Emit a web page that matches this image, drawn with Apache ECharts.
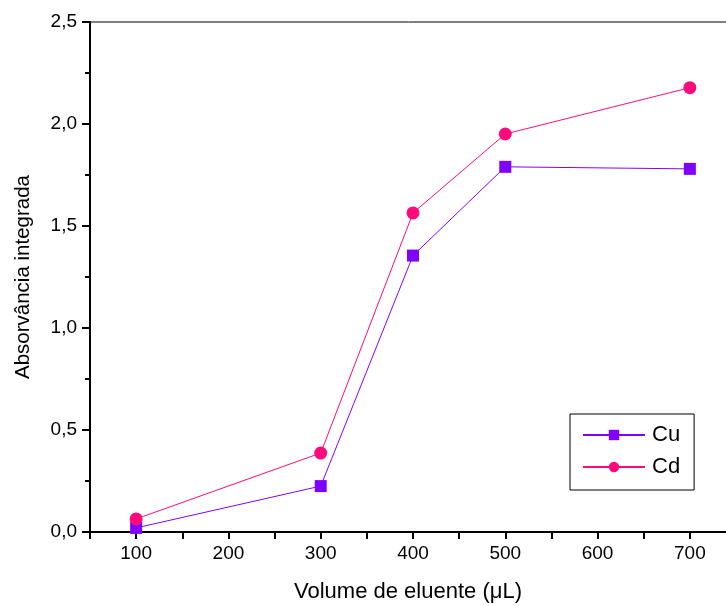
<!DOCTYPE html>
<html><head><meta charset="utf-8">
<script src="https://cdn.jsdelivr.net/npm/echarts@6/dist/echarts.min.js"></script>
<style>html,body{margin:0;padding:0;background:#fff}#c{width:726px;height:606px}</style>
</head><body><div id="c"></div>
<script>
const volumes = [100, 300, 400, 500, 700];
const cuValues = [0.02, 0.225, 1.355, 1.79, 1.78];
const cdValues = [0.064, 0.387, 1.564, 1.951, 2.178];
const seriesNames = ['Cu', 'Cd'];
const xTitle = 'Volume de eluente (\u03bcL)';
const yTitle = 'Absorv\u00e2ncia integrada';

const font = 'Liberation Sans, Arial, sans-serif';
const chart = echarts.init(document.getElementById('c'));
chart.setOption({
  animation: false,
  grid: { left: 90, top: 22, width: 646, height: 510, outerBoundsMode: 'none', containLabel: false,
          show: true, borderColor: '#000', borderWidth: 1 },
  xAxis: {
    type: 'value', min: 50, max: 750, interval: 50,
    axisLine: { lineStyle: { color: '#000', width: 2 } },
    axisTick: { length: 7, lineStyle: { color: '#000', width: 2 } },
    splitLine: { show: false },
    axisLabel: { color: '#000', fontSize: 19, fontFamily: font, margin: 12,
      formatter: v => (v % 100 === 0 && v <= 700) ? String(v) : '' },
    name: xTitle, nameLocation: 'middle', nameGap: 49,
    nameTextStyle: { color: '#000', fontSize: 22, fontFamily: font, padding: [0, 10, 0, 0] }
  },
  yAxis: {
    type: 'value', min: 0, max: 2.5, interval: 0.5,
    axisLine: { lineStyle: { color: '#000', width: 2 } },
    axisTick: { inside: false, length: 8, lineStyle: { color: '#000', width: 2 } },
    minorTick: { show: true, splitNumber: 2, length: 5, lineStyle: { color: '#000', width: 2 } },
    splitLine: { show: false },
    axisLabel: { color: '#000', fontSize: 19, fontFamily: font, margin: 13,
      formatter: v => v.toFixed(1).replace('.', ',') },
    name: yTitle, nameLocation: 'middle', nameGap: 56,
    nameTextStyle: { color: '#000', fontSize: 20.5, fontFamily: font }
  },
  legend: {
    orient: 'vertical', left: 570, top: 414,
    padding: [10, 14, 12, 12], itemGap: 10,
    itemWidth: 62, itemHeight: 13,
    borderColor: '#000', borderWidth: 1,
    textStyle: { color: '#000', fontSize: 22, fontFamily: font, padding: [0, 0, 0, 2] },
    data: seriesNames
  },
  series: [
    { name: seriesNames[0], type: 'line', data: volumes.map((v, i) => [v, cuValues[i]]),
      symbol: 'rect', symbolSize: 12, color: '#8000FF', lineStyle: { width: 1 }, itemStyle: { color: '#8000FF' } },
    { name: seriesNames[1], type: 'line', data: volumes.map((v, i) => [v, cdValues[i]]),
      symbol: 'circle', symbolSize: 13, color: '#FF0A7C', lineStyle: { width: 1 }, itemStyle: { color: '#FF0A7C' } }
  ]
});
</script></body></html>
